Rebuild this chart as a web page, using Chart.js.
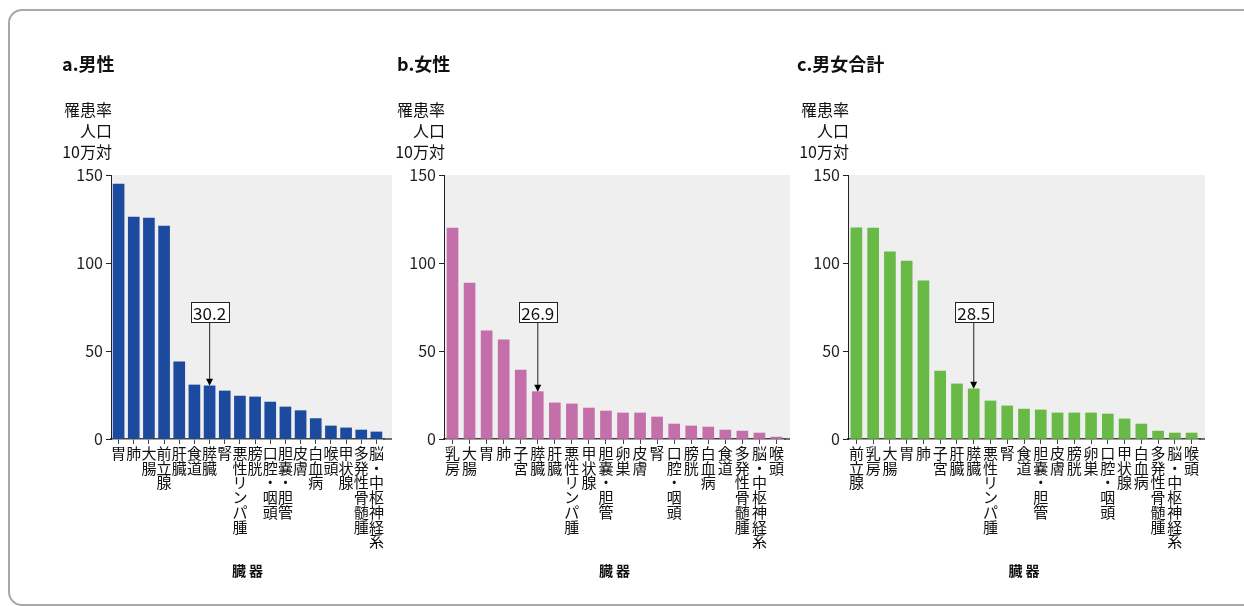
<!DOCTYPE html>
<html>
<head>
<meta charset="utf-8">
<script src="https://cdn.jsdelivr.net/npm/chart.js@4.4.1/dist/chart.umd.min.js"></script>
<style>
  body { margin: 0; background: #fff; width: 1244px; height: 606px; overflow: hidden; position: relative; }
  #frame { position: absolute; left: 8px; top: 9px; width: 1260px; height: 593px; border: 2px solid #a8a8a8; border-radius: 14px; }
  canvas { position: absolute; top: 0; }
</style>
</head>
<body>
<div id="frame"></div>
<canvas id="cMale" width="400" height="606" style="left:0px"></canvas>
<canvas id="cFemale" width="420" height="606" style="left:380px"></canvas>
<canvas id="cTotal" width="464" height="606" style="left:780px"></canvas>

<script>
const FONT = "'Noto Sans CJK JP', 'Noto Sans', sans-serif";

// 軸・見出し
const yTitleLines = ['罹患率', '人口', '10万対'];
const xTitle = '臓 器';
const yMax = 150;
const yStep = 50;

// a.男性
const organsMale = ['胃', '肺', '大腸', '前立腺', '肝臓', '食道', '膵臓', '腎', '悪性リンパ腫', '膀胱',
  '口腔・咽頭', '胆嚢・胆管', '皮膚', '白血病', '喉頭', '甲状腺', '多発性骨髄腫', '脳・中枢神経系'];
const ratesMale = [144.8, 126.1, 125.5, 121.0, 43.8, 30.7, 30.2, 27.3, 24.4, 23.9,
  21.0, 18.2, 16.1, 11.6, 7.4, 6.3, 5.1, 4.0];

// b.女性
const organsFemale = ['乳房', '大腸', '胃', '肺', '子宮', '膵臓', '肝臓', '悪性リンパ腫', '甲状腺', '胆嚢・胆管',
  '卵巣', '皮膚', '腎', '口腔・咽頭', '膀胱', '白血病', '食道', '多発性骨髄腫', '脳・中枢神経系', '喉頭'];
const ratesFemale = [119.9, 88.6, 61.4, 56.3, 39.2, 26.9, 20.5, 19.9, 17.6, 15.9,
  14.8, 14.8, 12.5, 8.5, 7.4, 6.8, 5.1, 4.5, 3.4, 1.1];

// c.男女合計
const organsTotal = ['前立腺', '乳房', '大腸', '胃', '肺', '子宮', '肝臓', '膵臓', '悪性リンパ腫', '腎',
  '食道', '胆嚢・胆管', '皮膚', '膀胱', '卵巣', '口腔・咽頭', '甲状腺', '白血病', '多発性骨髄腫', '脳・中枢神経系', '喉頭'];
const ratesTotal = [120.0, 119.9, 106.3, 101.1, 89.8, 38.6, 31.3, 28.5, 21.6, 18.8,
  17.0, 16.5, 14.8, 14.8, 14.8, 14.2, 11.4, 8.5, 4.5, 3.4, 3.4];

// 背景・パネル見出し・縦軸タイトル
const panelPlugin = {
  id: 'panel',
  beforeDraw(chart, args, opts) {
    const { ctx, chartArea: a } = chart;
    ctx.save();
    ctx.fillStyle = '#efefef';
    ctx.fillRect(a.left, a.top, a.right - a.left + opts.extra, a.bottom - a.top);
    ctx.restore();
  },
  afterDraw(chart, args, opts) {
    const { ctx, chartArea: a } = chart;
    ctx.save();
    // 横軸線を背景の右端まで延ばす
    ctx.strokeStyle = '#444';
    ctx.lineWidth = 1.5;
    ctx.beginPath();
    ctx.moveTo(a.right - 1, a.bottom);
    ctx.lineTo(a.right + opts.extra, a.bottom);
    ctx.stroke();
    ctx.fillStyle = '#111';
    ctx.textBaseline = 'middle';
    ctx.textAlign = 'left';
    ctx.font = 'bold 18px ' + FONT;
    ctx.fillText(opts.title, a.left - opts.titleShift, 64);
    ctx.textAlign = 'right';
    ctx.font = '16px ' + FONT;
    yTitleLines.forEach((s, i) => ctx.fillText(s, a.left + 1, 110 + i * 21));
    ctx.restore();
  }
};

// 膵臓の値ラベルと矢印
const calloutPlugin = {
  id: 'callout',
  afterDatasetsDraw(chart, args, opts) {
    const ctx = chart.ctx;
    const bar = chart.getDatasetMeta(0).data[opts.index];
    const text = chart.data.datasets[0].data[opts.index].toFixed(1);
    const cy = chart.scales.y.getPixelForValue(opts.at);
    ctx.save();
    ctx.font = '17px ' + FONT;
    const w = ctx.measureText(text).width + 5;
    const h = 20;
    const x = bar.x;
    // 矢印
    ctx.strokeStyle = '#444';
    ctx.lineWidth = 1.2;
    ctx.beginPath();
    ctx.moveTo(x, cy + h / 2);
    ctx.lineTo(x, bar.y - 6);
    ctx.stroke();
    ctx.fillStyle = '#000';
    ctx.beginPath();
    ctx.moveTo(x, bar.y);
    ctx.lineTo(x - 3.5, bar.y - 7);
    ctx.lineTo(x + 3.5, bar.y - 7);
    ctx.closePath();
    ctx.fill();
    // ラベル
    ctx.fillStyle = '#fff';
    ctx.fillRect(x - w / 2, cy - h / 2, w, h);
    ctx.strokeStyle = '#222';
    ctx.lineWidth = 1;
    ctx.strokeRect(Math.round(x - w / 2) + 0.5, Math.round(cy - h / 2) + 0.5, Math.round(w), h);
    ctx.fillStyle = '#111';
    ctx.textAlign = 'center';
    ctx.textBaseline = 'middle';
    ctx.fillText(text, x, cy + 1);
    ctx.restore();
  }
};

function makeChart(id, title, organs, rates, color, idx, geo) {
  new Chart(document.getElementById(id), {
    type: 'bar',
    data: {
      labels: organs.map(s => s.split('')),
      datasets: [{
        data: rates,
        backgroundColor: color,
        barThickness: 11
      }]
    },
    options: {
      responsive: false,
      animation: false,
      layout: { padding: { top: 175, right: geo.right, bottom: 0, left: 0 } },
      plugins: {
        legend: { display: false },
        tooltip: { enabled: false },
        panel: { title: title, titleShift: geo.titleShift, extra: geo.extra },
        callout: { index: idx, at: 72 }
      },
      scales: {
        x: {
          afterFit: (s) => { s.height = 606 - 439; },
          border: { display: true, color: '#444', width: 1.5 },
          grid: { drawOnChartArea: false, offset: false, tickLength: 5, color: '#444' },
          ticks: {
            autoSkip: false, maxRotation: 0, minRotation: 0, padding: 2,
            color: '#111', font: { family: FONT, size: 15, lineHeight: 0.98 }
          },
          title: {
            display: true, text: xTitle, color: '#111', padding: { top: 0, bottom: 27 },
            font: { family: FONT, size: 14, weight: 'bold' }
          }
        },
        y: {
          min: 0, max: yMax,
          afterFit: (s) => { s.width = geo.left; },
          border: { display: true, color: '#222', width: 1 },
          grid: { drawOnChartArea: false, tickLength: 5, color: '#222' },
          ticks: { stepSize: yStep, padding: 3, color: '#222', font: { family: FONT, size: 16 } }
        }
      }
    },
    plugins: [panelPlugin, calloutPlugin]
  });
}

makeChart('cMale', 'a.男性', organsMale, ratesMale, '#1c4a9e', 6, { left: 111, right: 16, extra: 8, titleShift: 49 });
makeChart('cFemale', 'b.女性', organsFemale, ratesFemale, '#c46fa9', 5, { left: 64, right: 15, extra: 5, titleShift: 47 });
makeChart('cTotal', 'c.男女合計', organsTotal, ratesTotal, '#69b946', 7, { left: 68, right: 44, extra: 5, titleShift: 51 });
</script>
</body>
</html>
